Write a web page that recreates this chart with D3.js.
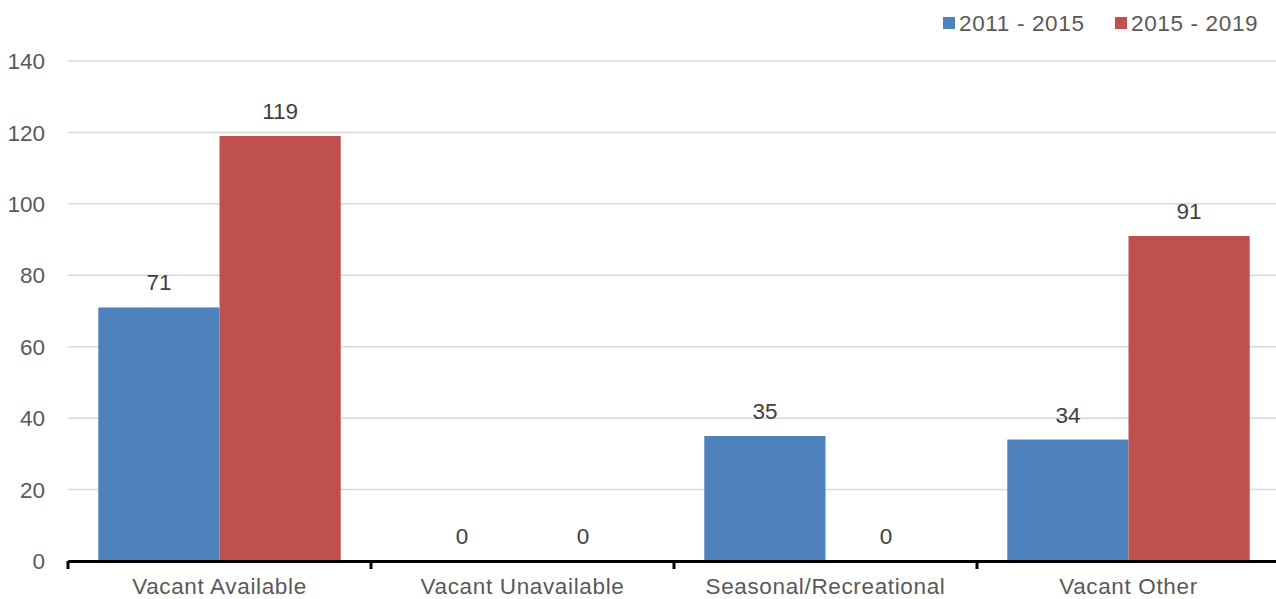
<!DOCTYPE html>
<html>
<head>
<meta charset="utf-8">
<script src="https://cdn.jsdelivr.net/npm/d3@7"></script>
<style>
  html, body { margin: 0; padding: 0; background: #fff; overflow: hidden; }
  svg text { font-family: "Liberation Sans", Arial, sans-serif; }
</style>
</head>
<body>
<svg id="chart" width="1276" height="599"></svg>
<script>
const categories = ["Vacant Available", "Vacant Unavailable", "Seasonal/Recreational", "Vacant Other"];
const seriesNames = ["2011 - 2015", "2015 - 2019"];
const values2011_2015 = [71, 0, 35, 34];
const values2015_2019 = [119, 0, 0, 91];
const yTicks = [0, 20, 40, 60, 80, 100, 120, 140];
const colors = ["#4f81bd", "#c0504d"];

(function () {
const svg = d3.select("#chart");
const plotLeft = 68, plotRight = 1280, plotTop = 61, plotBottom = 561;
const fontSize = 22.5, spacing = 0.65;

const x = d3.scaleBand().domain(categories).range([plotLeft, plotRight]).paddingInner(0.2).paddingOuter(0.1);
const xs = d3.scaleBand().domain(seriesNames).range([0, x.bandwidth()]);
const y = d3.scaleLinear().domain([0, 140]).range([plotBottom, plotTop]);

// gridlines
svg.append("g").selectAll("line").data(yTicks.filter(d => d > 0)).join("line")
  .attr("x1", plotLeft).attr("x2", 1276)
  .attr("y1", d => y(d)).attr("y2", d => y(d))
  .attr("stroke", "#d9d9d9").attr("stroke-width", 1.5);

// y tick labels
svg.append("g").selectAll("text").data(yTicks).join("text")
  .attr("x", 45).attr("y", d => y(d)).attr("dy", "0.36em")
  .attr("text-anchor", "end").attr("font-size", fontSize).attr("fill", "#595959")
  .text(d => d);

const data = categories.map((c, i) => ({
  cat: c, vals: [values2011_2015[i], values2015_2019[i]]
}));

const groups = svg.append("g").selectAll("g").data(data).join("g")
  .attr("transform", d => `translate(${x(d.cat)},0)`);

groups.selectAll("rect").data(d => d.vals.map((v, k) => ({ v, k }))).join("rect")
  .attr("x", d => xs(seriesNames[d.k]))
  .attr("width", xs.bandwidth())
  .attr("y", d => y(d.v))
  .attr("height", d => plotBottom - y(d.v))
  .attr("fill", d => colors[d.k]);

groups.selectAll("text.val").data(d => d.vals.map((v, k) => ({ v, k }))).join("text")
  .attr("class", "val")
  .attr("x", d => xs(seriesNames[d.k]) + xs.bandwidth() / 2)
  .attr("y", d => y(d.v) - 17)
  .attr("text-anchor", "middle").attr("font-size", fontSize).attr("fill", "#404040")
  .text(d => d.v);

// x axis
const axis = svg.append("g");
axis.append("line").attr("x1", plotLeft).attr("x2", 1276).attr("y1", plotBottom + 0.5).attr("y2", plotBottom + 0.5)
  .attr("stroke", "#000").attr("stroke-width", 3);
const tickXs = categories.map(c => x(c) - x.step() * x.paddingInner() / 2).concat([plotRight]);
axis.selectAll("line.tick").data(tickXs).join("line").attr("class", "tick")
  .attr("x1", d => d).attr("x2", d => d)
  .attr("y1", plotBottom).attr("y2", plotBottom + 8)
  .attr("stroke", "#000").attr("stroke-width", 3);
axis.selectAll("text").data(categories).join("text")
  .attr("x", d => x(d) + x.bandwidth() / 2).attr("y", 594)
  .attr("text-anchor", "middle").attr("font-size", fontSize)
  .attr("letter-spacing", spacing).attr("fill", "#595959")
  .text(d => d);

// legend
const legendX = [943, 1115];
const leg = svg.append("g").selectAll("g").data(seriesNames).join("g")
  .attr("transform", (d, i) => `translate(${legendX[i]},0)`);
leg.append("rect").attr("x", 0).attr("y", 17).attr("width", 12).attr("height", 12)
  .attr("fill", (d, i) => colors[i]);
leg.append("text").attr("x", 16).attr("y", 23).attr("dy", "0.36em")
  .attr("font-size", fontSize).attr("letter-spacing", spacing)
  .attr("fill", "#595959").text(d => d);
})();
</script>
</body>
</html>
